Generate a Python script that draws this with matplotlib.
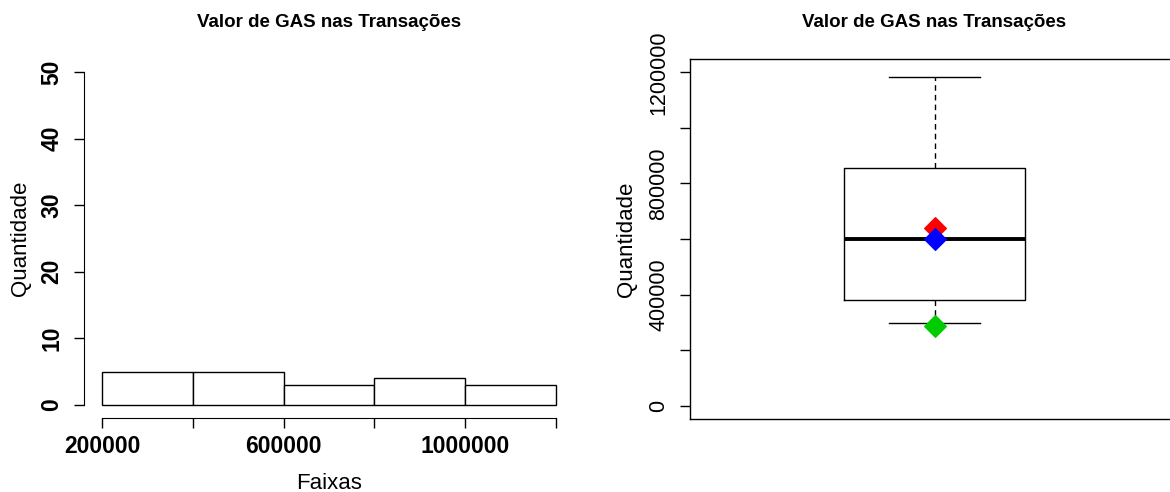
import matplotlib
matplotlib.use("Agg")
import matplotlib.pyplot as plt
from matplotlib.ticker import FixedLocator

plt.rcParams['font.family'] = ['Liberation Sans', 'DejaVu Sans']

# Histograma: faixas de GAS e contagens
faixas = [200000, 400000, 600000, 800000, 1000000, 1200000]
contagens = [5, 5, 3, 4, 3]
x_ticks = [200000, 400000, 600000, 800000, 1000000, 1200000]
x_rotulos = ["200000", "", "600000", "", "1000000", ""]
y_ticks_hist = [0, 10, 20, 30, 40, 50]

# Boxplot: resumo dos valores de GAS
q1 = 382000
mediana = 600000
q3 = 854000
bigode_inf = 299000
bigode_sup = 1185000
media = 638000
moda = 286000
y_ticks_box = [0, 200000, 400000, 600000, 800000, 1000000, 1200000]
y_rotulos_box = ["0", "", "400000", "", "800000", "", "1200000"]

titulo = "Valor de GAS nas Transações"

fig = plt.figure(figsize=(11.7, 4.92), dpi=100)
W, H = 1170, 492

def eixo(x0, x1, y0, y1):
    return fig.add_axes([x0 / W, 1 - y1 / H, (x1 - x0) / W, (y1 - y0) / H])

# ---- histograma ----
ax1 = eixo(84, 574, 58.7, 418.3)
larguras = [faixas[i + 1] - faixas[i] for i in range(len(contagens))]
ax1.bar(faixas[:-1], contagens, width=larguras, align='edge',
        color='white', edgecolor='black', linewidth=1)
ax1.set_xlim(160000, 1240000)
ax1.set_ylim(-2, 52)
for s in ['top', 'right']:
    ax1.spines[s].set_visible(False)
ax1.spines['left'].set_bounds(0, 50)
ax1.spines['bottom'].set_bounds(200000, 1200000)
ax1.xaxis.set_major_locator(FixedLocator(x_ticks))
ax1.set_xticklabels(x_rotulos, fontweight='bold', fontsize=16.5)
ax1.yaxis.set_major_locator(FixedLocator(y_ticks_hist))
ax1.set_yticklabels([str(v) for v in y_ticks_hist], fontweight='bold',
                    fontsize=16.5, rotation=90, va='center')
ax1.tick_params(axis='x', length=7, width=1, pad=5)
ax1.tick_params(axis='y', length=7, width=1, pad=8)
ax1.set_title(titulo, fontweight='bold', fontsize=13.5, pad=23)
ax1.set_xlabel("Faixas", fontsize=16, va='center')
ax1.xaxis.set_label_coords(0.5, -0.18)
ax1.set_ylabel("Quantidade", fontsize=16, va='center')
ax1.yaxis.set_label_coords(-0.13, 0.5)

# ---- boxplot ----
ax2 = eixo(690, 1179, 59, 419)
stats = [dict(med=mediana, q1=q1, q3=q3, whislo=bigode_inf, whishi=bigode_sup,
              fliers=[])]
ax2.bxp(stats, positions=[1], widths=0.4, capwidths=0.2, showfliers=False,
        boxprops=dict(color='black', linewidth=1),
        whiskerprops=dict(color='black', linewidth=1, linestyle=(0, (4, 3))),
        capprops=dict(color='black', linewidth=1),
        medianprops=dict(color='black', linewidth=2.8))
ax2.plot([1], [media], 'D', color='red', ms=11, mew=0.8, zorder=5)
ax2.plot([1], [mediana], 'D', color='blue', ms=11, mew=0.8, zorder=6)
ax2.plot([1], [moda], 'D', color='#00cc00', ms=11, mew=0.8, zorder=5)
ax2.set_xlim(0.46, 1.54)
ax2.set_ylim(-48000, 1248000)
ax2.set_xticks([])
ax2.yaxis.set_major_locator(FixedLocator(y_ticks_box))
ax2.set_yticklabels(y_rotulos_box, fontsize=15.5, rotation=90, va='center')
ax2.tick_params(axis='y', length=7, width=1, pad=8)
for s in ax2.spines.values():
    s.set_linewidth(1)
ax2.set_title(titulo, fontweight='bold', fontsize=13.5, pad=23)
ax2.set_ylabel("Quantidade", fontsize=16, va='center')
ax2.yaxis.set_label_coords(-0.13, 0.5)

fig.savefig("out.png", dpi=100)
